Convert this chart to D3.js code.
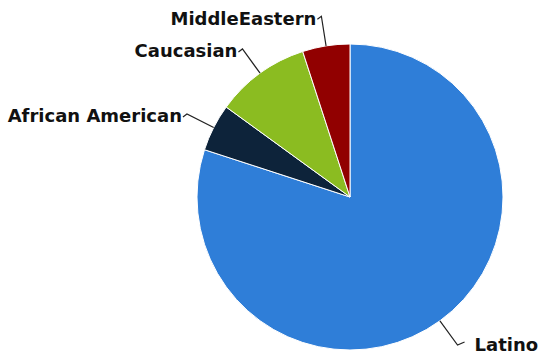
<!DOCTYPE html>
<html>
<head>
<meta charset="utf-8">
<script src="https://cdn.jsdelivr.net/npm/d3@7"></script>
<style>
  body { margin: 0; background: #fff; }
  .lbl { font-family: "DejaVu Sans", sans-serif; font-weight: bold; font-size: 18px; fill: #111; }
</style>
</head>
<body>
<div id="chart"></div>
<script>
const categories = ["Latino", "African American", "Caucasian", "MiddleEastern"];
const values = [80, 5, 10, 5];
const colors = ["#2f7ed8", "#0d233a", "#8bbc21", "#910000"];

const width = 540, height = 354;
const cx = 350, cy = 197, radius = 153;

const svg = d3.select("#chart").append("svg").attr("width", width).attr("height", height);
const g = svg.append("g").attr("transform", `translate(${cx},${cy})`);

const data = categories.map((c, i) => ({ name: c, value: values[i], color: colors[i] }));
const pie = d3.pie().sort(null).value(d => d.value);
const arcs = pie(data);
const arc = d3.arc().innerRadius(0).outerRadius(radius);

// Slices
g.selectAll("path.slice")
  .data(arcs)
  .enter().append("path")
  .attr("class", "slice")
  .attr("d", arc)
  .attr("fill", d => d.data.color)
  .attr("stroke", "#fff")
  .attr("stroke-width", 1);

// point on the ray at angle a (0 = top, clockwise)
const polar = (a, rad) => [Math.sin(a) * rad, -Math.cos(a) * rad];

// Connectors and labels
arcs.forEach(d => {
  const a = (d.startAngle + d.endAngle) / 2;
  const right = Math.sin(a) > 0;
  const edge = polar(a, radius);
  const brk = polar(a, radius + 30);
  const end = [brk[0] + (right ? 7 : -4), brk[1] + (right ? -3 : 3)];

  g.append("path")
    .attr("d", d3.line()([edge, brk, end]))
    .attr("fill", "none")
    .attr("stroke", "#222")
    .attr("stroke-width", 1.2);

  g.append("text")
    .attr("class", "lbl")
    .attr("x", brk[0] + (right ? 17 : -5))
    .attr("y", brk[1] + (right ? -1 : 2) + 6.5)
    .attr("text-anchor", right ? "start" : "end")
    .text(d.data.name);
});
</script>
</body>
</html>
